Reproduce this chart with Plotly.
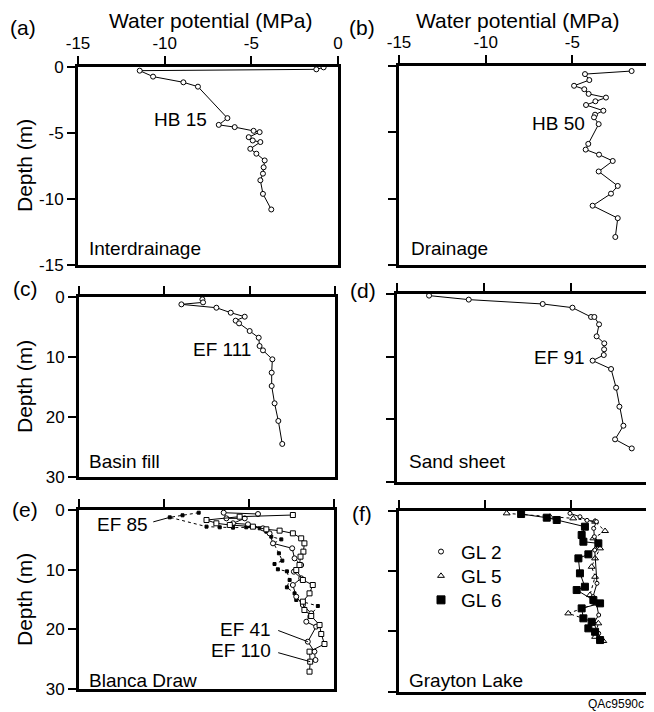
import plotly.graph_objects as go

W, H = 654, 712
FONT = "Liberation Sans, Arial, sans-serif"

# ---------------- data ----------------
x_ticks = [-15, -10, -5, 0]
x_ticktext = ["-15", "-10", "-5", "0"]
depth_ticks_ab = [0, -5, -10, -15]
depth_ticktext_ab = ["0", "-5", "-10", "-15"]
depth_ticks_cf = [0, 10, 20, 30]
depth_ticktext_cf = ["0", "10", "20", "30"]

# (a) Interdrainage HB 15
HB15_wp = [-0.83, -1.25, -11.44, -10.67, -8.92, -8.08, -6.38, -6.88, -5.96, -4.87, -4.52,
           -5.15, -4.92, -4.48, -5.06, -4.71, -4.23, -4.29, -4.33, -4.48, -4.33, -3.85]
HB15_depth = [-0.05, -0.2, -0.3, -0.75, -1.18, -1.51, -3.89, -4.40, -4.57, -4.85, -4.95,
              -5.33, -5.58, -5.70, -6.21, -6.58, -7.09, -7.61, -8.09, -8.59, -9.62, -10.8]

# (b) Drainage HB 50
HB50_wp = [-1.58, -4.27, -4.02, -4.90, -4.31, -4.06, -3.06, -3.67, -4.21, -3.21, -3.69, -3.75,
           -3.48, -4.08, -4.23, -3.46, -2.67, -3.48, -2.38, -2.77, -3.83, -2.38, -2.52]
HB50_depth = [-0.38, -0.61, -1.06, -1.49, -1.75, -2.10, -2.38, -2.66, -2.94, -3.37, -3.67, -3.87,
              -4.38, -5.87, -6.30, -6.68, -7.16, -7.95, -9.04, -9.62, -10.53, -11.47, -12.89]

# (c) Basin fill EF 111
EF111_wp = [-7.77, -7.73, -9.0, -6.95, -6.11, -5.29, -5.82, -5.62, -5.0, -4.47, -4.42, -4.22,
            -3.67, -3.71, -3.71, -3.54, -3.32, -3.09]
EF111_depth = [0.44, 0.94, 1.27, 1.83, 2.66, 3.32, 3.98, 4.43, 5.70, 6.81, 8.19, 8.91,
               10.40, 12.62, 14.83, 17.71, 20.64, 24.46]

# (d) Sand sheet EF 91
EF91_wp = [-13.14, -10.86, -6.61, -4.90, -3.83, -3.64, -3.37, -3.51, -3.07, -3.08, -3.10,
           -3.74, -2.68, -2.39, -2.20, -1.97, -2.45, -1.49]
EF91_depth = [0.21, 0.85, 1.55, 2.14, 3.63, 3.63, 4.81, 6.73, 7.85, 8.81, 9.72,
              10.62, 11.96, 14.95, 17.99, 21.04, 23.22, 24.67]

# (e) Blanca Draw
EF85_wp = [-7.96, -8.91, -9.66, -7.5, -6.72, -5.94, -5.16, -4.37, -3.98, -3.69, -3.1, -3.55,
           -3.24, -3.04, -3.5, -3.3, -2.77, -2.61, -2.77, -2.32, -2.22, -0.95, -1.44]
EF85_depth = [0.45, 0.89, 1.23, 2.79, 2.9, 2.96, 2.9, 3.07, 3.63, 4.47, 4.92, 5.59,
              7.26, 8.49, 9.05, 9.94, 10.28, 11.73, 12.96, 13.97, 15.08, 16.09, 17.88]
EF41_wp = [-4.47, -6.49, -6.33, -5.25, -5.94, -5.06, -4.18, -3.79, -3.59, -2.46, -2.32, -1.93,
           -2.36, -1.93, -2.42, -2.22, -1.83, -1.34, -1.63, -1.05, -1.54, -1.15, -1.09]
EF41_depth = [0.67, 0.45, 1.40, 1.40, 2.23, 2.40, 3.07, 3.91, 5.59, 6.42, 8.1, 9.22,
              10.34, 11.45, 12.57, 14.53, 15.92, 17.32, 18.72, 19.55, 22.07, 23.74, 25.14]
EF110_wp = [-2.42, -5.55, -7.5, -6.92, -6.13, -4.77, -3.98, -3.2, -2.42, -1.93, -1.74, -1.80,
            -1.97, -2.03, -2.22, -1.83, -1.25, -1.44, -1.83, -1.74, -1.34, -0.85, -0.75,
            -0.56, -1.44, -1.40, -1.44]
EF110_depth = [0.84, 1.12, 1.68, 2.23, 2.51, 2.79, 3.24, 3.46, 3.91, 4.75, 5.59, 6.98,
               7.82, 9.22, 10.06, 11.73, 12.57, 13.97, 15.36, 16.76, 17.77, 19.27, 20.78,
               22.46, 23.74, 25.42, 27.09]

# (f) Grayton Lake
GL2_wp = [-5.06, -4.48, -4.07, -3.6, -3.52, -3.68, -3.64, -3.35, -3.62, -3.49, -3.72, -3.52,
          -3.39, -3.68, -3.39, -3.23]
GL2_depth = [0.44, 1.0, 1.6, 1.71, 1.82, 2.93, 4.31, 5.41, 6.52, 12.04, 14.25, 15.36,
             17.29, 18.67, 20.33, 21.33]
GL5_wp = [-8.74, -6.22, -4.87, -3.6, -3.02, -3.70, -3.31, -3.6, -3.8, -3.6, -3.9, -3.51,
          -5.16, -3.41, -3.6, -3.12]
GL5_depth = [0.44, 1.0, 1.27, 1.82, 3.37, 4.58, 6.24, 7.9, 9.29, 10.95, 13.98, 15.36,
             17.02, 18.67, 20.9, 21.6]
GL6_wp = [-7.9, -6.41, -5.83, -4.19, -4.38, -4.28, -3.41, -3.99, -4.57, -4.48, -4.19, -4.67,
          -3.7, -3.31, -4.38, -4.28, -3.8, -3.99, -3.6, -3.31]
GL6_depth = [0.55, 1.16, 1.54, 2.65, 4.03, 5.14, 5.41, 7.23, 7.9, 10.38, 12.6, 13.15,
             14.81, 15.36, 16.19, 17.84, 18.41, 19.5, 20.07, 21.44]

# ---------------- layout geometry (figure pixels) ----------------
# left, right, top, bottom of each panel's plotting box
boxes = {
    1: (70, 330, 58.7, 257),
    2: (391, 651, 58, 257),
    3: (71, 327, 288.7, 469.3),
    4: (388.7, 649.7, 286.3, 473.7),
    5: (71, 326, 502, 681),
    6: (391, 649, 502.7, 683.7),
}

fig = go.Figure()


def ax(i, axis):
    return axis if i == 1 else f"{axis}{i}"


def add_profile(i, xs, ys, symbol, size, fill, dash="solid"):
    fig.add_trace(go.Scatter(
        x=xs, y=ys, mode="lines+markers", xaxis=ax(i, "x"), yaxis=ax(i, "y"),
        line=dict(color="black", width=1, dash=dash),
        marker=dict(symbol=symbol, size=size, color=fill,
                    line=dict(color="black", width=1)),
        cliponaxis=False, showlegend=False))


add_profile(1, HB15_wp, HB15_depth, "circle", 5, "white")
add_profile(2, HB50_wp, HB50_depth, "circle", 5, "white")
add_profile(3, EF111_wp, EF111_depth, "circle", 5, "white")
add_profile(4, EF91_wp, EF91_depth, "circle", 5, "white")
add_profile(5, EF85_wp, EF85_depth, "square", 3, "black", dash="3px,3px")
add_profile(5, EF41_wp, EF41_depth, "circle", 5, "white")
add_profile(5, EF110_wp, EF110_depth, "square", 5, "white")
add_profile(6, GL5_wp, GL5_depth, "triangle-up", 6, "white", dash="3px,3px")
add_profile(6, GL2_wp, GL2_depth, "circle", 4, "white")
add_profile(6, GL6_wp, GL6_depth, "square", 7, "black")

# legend entries for panel (f), one small legend per row
legend_rows = [("GL 2", "circle", 5, "white", "legend", 543.7),
               ("GL 5", "triangle-up", 6, "white", "legend2", 568),
               ("GL 6", "square", 8, "black", "legend3", 592)]
legend_layout = {}
for nm, sym, sz, fill, lg, ypx in legend_rows:
    fig.add_trace(go.Scatter(x=[None], y=[None], mode="markers", name=nm,
                             xaxis="x6", yaxis="y6", legend=lg,
                             marker=dict(symbol=sym, size=sz, color=fill,
                                         line=dict(color="black", width=1)),
                             showlegend=True))
    legend_layout[lg] = dict(x=413 / W, y=1 - ypx / H, xanchor="left", yanchor="middle",
                             bgcolor="rgba(0,0,0,0)", borderwidth=0,
                             font=dict(family=FONT, size=19, color="black"),
                             itemsizing="trace")

layout = {}
for i, (l, r, t, b) in boxes.items():
    right_col = i % 2 == 0
    xk = "xaxis" if i == 1 else f"xaxis{i}"
    yk = "yaxis" if i == 1 else f"yaxis{i}"
    layout[xk] = dict(
        domain=[l / W, r / W], range=[-15, 0], anchor=ax(i, "y"), side="top",
        showline=True, linecolor="black", linewidth=3, mirror=True,
        ticks="outside", ticklen=8, tickwidth=2, tickcolor="black",
        tickmode="array", tickvals=x_ticks, ticktext=x_ticktext,
        showticklabels=(i <= 2),
        tickfont=dict(family=FONT, size=17, color="black"), automargin=False,
        showgrid=False, zeroline=False, fixedrange=True)
    if i <= 2:
        yr, yt, ytt = [-15, 0], depth_ticks_ab, depth_ticktext_ab
    else:
        yr, yt, ytt = [30, 0], depth_ticks_cf, depth_ticktext_cf
    layout[yk] = dict(
        domain=[1 - b / H, 1 - t / H], range=yr, anchor=ax(i, "x"),
        showline=True, linecolor="black", linewidth=3, mirror=True,
        ticks="outside", ticklen=8, tickwidth=2, tickcolor="black",
        tickmode="array", tickvals=yt, ticktext=ytt, showticklabels=not right_col,
        tickfont=dict(family=FONT, size=17, color="black"), automargin=False,
        showgrid=False, zeroline=False, fixedrange=True)

ann = []


def pa(text, px, py, size=21, xanchor="center", yanchor="middle", angle=0):
    ann.append(dict(text=text, x=px / W, y=1 - py / H, xref="paper", yref="paper",
                    xanchor=xanchor, yanchor=yanchor, showarrow=False, textangle=angle,
                    font=dict(family=FONT, size=size, color="black")))


def da(i, text, x, y, xanchor="center", size=19):
    ann.append(dict(text=text, x=x, y=y, xref=ax(i, "x"), yref=ax(i, "y"),
                    xanchor=xanchor, yanchor="middle", showarrow=False,
                    font=dict(family=FONT, size=size, color="black")))


def leader(i, x0, y0, x1, y1):
    ann.append(dict(text="", x=x1, y=y1, ax=x0, ay=y0, xref=ax(i, "x"), yref=ax(i, "y"),
                    axref=ax(i, "x"), ayref=ax(i, "y"), showarrow=True, arrowhead=0,
                    arrowwidth=1, arrowcolor="black"))


# panel letters
pa("(a)", 15, 20)
pa("(b)", 354, 20)
pa("(c)", 17, 280)
pa("(d)", 355, 282)
pa("(e)", 17, 501)
pa("(f)", 354, 505)
# axis titles
pa("Water potential (MPa)", 202, 13)
pa("Water potential (MPa)", 509, 13)
pa("Depth (m)", 16, 158, angle=-90)
pa("Depth (m)", 16, 379, angle=-90)
pa("Depth (m)", 16, 592, angle=-90)
# figure code
pa("QAc9590c", 578, 695.5, size=12, xanchor="left")

# site labels
da(1, "Interdrainage", -14.46, -13.78, xanchor="left")
da(2, "Drainage", -14.41, -13.78, xanchor="left")
da(3, "Basin fill", -14.51, 27.3, xanchor="left")
da(4, "Sand sheet", -14.41, 26.77, xanchor="left")
da(5, "Blanca Draw", -14.55, 28.56, xanchor="left")
da(6, "Grayton Lake", -14.53, 28.16, xanchor="left")
# profile labels
da(1, "HB 15", -9.06, -4.02)
da(2, "HB 50", -5.78, -4.35)
da(3, "EF 111", -6.64, 8.85)
da(4, "EF 91", -5.67, 10.1)
da(5, "EF 85", -10.82, 2.35, xanchor="right")
da(5, "EF 41", -3.59, 20.1, xanchor="right")
da(5, "EF 110", -3.57, 23.53, xanchor="right")
leader(5, -10.72, 2.06, EF85_wp[2], EF85_depth[2])
leader(5, -3.37, 20.1, EF41_wp[20], EF41_depth[20])
leader(5, -3.37, 23.84, EF110_wp[25], EF110_depth[25])

fig.update_layout(
    width=W, height=H, autosize=False,
    margin=dict(l=0, r=0, t=0, b=0, autoexpand=False),
    paper_bgcolor="white", plot_bgcolor="white",
    font=dict(family=FONT, size=17, color="black"),
    annotations=ann,
    **legend_layout,
    **layout)

fig.write_html("out.html")
